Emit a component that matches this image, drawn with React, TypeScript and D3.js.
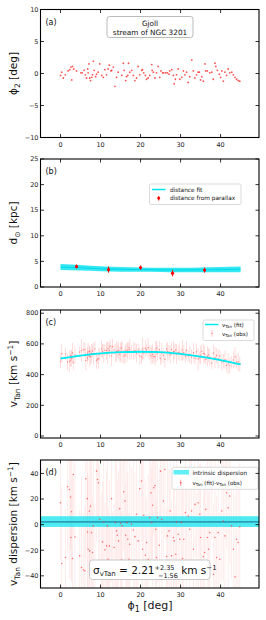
import React from "react";
import * as d3 from "d3";

// panel (a): stream stars on the sky
const phi1A = [0.0,0.3,0.7,1.2,1.9,2.3,2.6,2.8,3.0,3.3,4.0,5.1,5.4,5.9,6.2,6.5,6.8,6.9,7.1,7.3,
  7.5,7.8,8.0,8.2,8.4,8.8,9.0,9.4,9.8,10.3,10.7,11.1,11.5,11.9,12.2,12.6,12.8,13.2,13.6,14.0,
  14.4,15.3,15.7,15.9,16.3,16.5,16.8,17.0,17.3,17.8,18.2,18.6,19.0,19.4,19.8,20.3,20.5,20.8,21.2,21.5,
  21.9,22.3,22.8,22.9,23.2,23.6,24.0,24.4,24.8,25.1,25.5,25.8,26.3,26.7,27.1,27.3,27.8,28.2,28.4,28.7,
  29.0,29.4,29.8,30.3,30.7,31.1,31.5,31.9,32.3,32.8,33.2,33.6,34.0,34.4,34.7,35.0,35.3,35.7,36.1,36.3,
  36.7,37.3,37.8,38.2,38.6,38.8,39.2,39.7,40.0,40.3,40.7,41.1,41.5,41.9,42.3,42.8,43.2,43.6,44.0,44.4,44.8];
const phi2A = [-0.3,0.2,-0.7,-0.2,0.4,0.6,1.0,-1.0,1.1,0.7,0.4,0.1,0.1,0.5,-0.2,-0.7,0.7,0.1,1.5,-0.7,
  -1.1,-0.6,-0.2,1.9,0.5,-0.5,-0.1,0.2,1.5,-0.3,-0.6,0.6,-0.2,0.7,1.3,0.4,0.5,1.0,-2.0,-0.6,
  0.2,-0.3,1.6,0.5,-1.1,-0.5,-0.3,1.6,0.2,0.5,-0.3,-1.1,-0.7,1.1,-0.2,0.5,0.6,0.1,-0.3,-0.9,
  -0.7,-0.3,1.4,0.5,0.2,-0.7,0.1,1.1,-0.6,0.4,0.1,0.1,0.1,0.1,-0.1,0.4,0.6,-0.3,-1.6,-0.9,
  -0.2,0.7,-0.9,-0.6,0.4,-0.2,0.2,-1.4,-0.5,2.1,0.4,-0.7,-0.2,0.2,0.2,-1.0,-0.5,-1.2,1.5,0.4,
  0.4,0.1,0.2,-0.9,1.6,1.1,0.5,-0.1,-0.6,0.4,-1.2,0.2,-0.3,0.7,0.1,0.2,-0.2,-0.6,-0.9,-1.1,-1.2];

// panel (b): distances
const distPhi = [4, 12, 20, 28, 36];
const distVal = [4.0, 3.4, 3.8, 2.7, 3.3];
const distErr = [0.4, 0.6, 0.4, 0.6, 0.5];
const bandPhi = [0, 5, 10, 15, 20, 25, 30, 35, 40, 45];
const bandHi = [4.5, 4.3, 4.05, 3.9, 3.8, 3.75, 3.75, 3.8, 3.9, 4.0];
const bandLo = [3.3, 3.2, 3.1, 3.0, 3.0, 2.95, 2.9, 2.9, 2.9, 2.9];

// panel (c): tangential velocity fit
const fitPhi = [0, 5, 10, 15, 20, 25, 30, 35, 40, 45];
const fitV = [505, 524, 538, 546, 549, 546, 535, 517, 494, 466];

// panel (d): residuals fit - obs, with errors
const phi1D = [0.0,0.3,1.25,1.75,2.2,2.5,2.75,2.6,3.0,3.2,
  3.6,4.8,5.25,5.7,6.1,6.3,6.7,6.9,6.75,7.2,
  7.3,7.5,7.75,8.0,8.2,8.6,9.0,9.25,9.5,9.8,
  10.25,10.5,10.8,11.1,11.5,11.7,11.9,12.2,12.4,12.75,
  13.0,13.4,13.7,14.0,14.2,14.5,14.8,15.0,15.25,15.4,
  15.8,16.1,16.3,16.6,16.8,17.1,17.3,17.75,18.2,18.6,
  19.0,19.4,19.8,20.25,20.5,20.8,21.2,21.5,21.9,22.3,
  22.6,22.8,23.0,23.3,23.6,23.8,24.0,24.25,24.7,25.0,
  25.3,25.7,26.1,26.5,26.75,27.1,27.4,27.75,28.2,28.4,
  28.8,29.0,29.4,29.8,30.25,30.5,30.8,31.2,31.5,31.9,
  32.3,32.75,33.2,33.6,34.0,34.4,34.8,35.0,35.3,35.7,
  36.0,36.3,36.7,37.0,37.3,37.8,38.2,38.6,39.0,39.4,
  39.8,40.3,40.7,41.1,41.5,41.9,42.3,42.75,43.2,43.6,
  44.0,44.4,44.8];
const resD = [17.1,-30.4,-25.7,29.6,27.5,21.6,10.1,-10.1,-26.5,39.2,
  -9.6,-24.4,-33.5,-35.3,-36.1,35.8,20.3,-19.2,-5.7,10.6,
  -20.5,14.5,-6.2,-21.8,-1.0,-33.5,41.8,35.3,32.7,4.2,
  -29.6,-13.5,2.1,-19.7,-16.6,-1.0,-27.0,-16.6,-42.6,20.3,
  -40.0,-17.9,1.6,-4.9,-8.3,-12.7,12.5,1.0,-27.5,-1.0,
  25.7,18.4,-8.3,1.6,-11.4,-27.0,-15.3,0.3,-4.2,-9.4,
  8.1,-12.7,28.1,34.0,-19.2,7.3,-23.9,-14.0,-27.0,5.5,
  24.9,1.6,15.1,28.8,30.6,-3.6,-25.7,5.5,-16.1,41.8,
  4.2,18.4,43.1,-24.9,-8.8,-4.9,10.6,-24.4,-10.1,-12.7,
  -23.1,2.1,-7.5,-11.4,1.6,-26.5,-11.4,9.4,-29.6,6.8,
  -3.6,10.6,-19.2,15.8,-28.3,17.1,8.1,-10.1,-36.1,-24.9,
  -21.8,11.9,-10.1,-19.2,-6.2,28.1,-38.7,-10.1,-25.7,-6.2,
  -27.0,10.6,2.9,-8.8,24.9,13.2,22.3,-1.0,-19.2,-40.8,
  -11.4,-14.0,-1.6];
const errD = [45,60,38,52,70,41,55,33,64,48,
  58,36,72,44,50,62,39,57,46,68,
  35,53,61,42,75,49,56,31,66,43,
  54,47,63,37,59,71,40,52,45,65,
  50,34,58,67,43,55,48,62,38,73,
  46,57,41,64,52,36,69,44,59,50,
  61,39,55,47,72,42,58,35,66,49,
  53,44,63,38,57,70,46,51,60,40,
  67,45,54,37,62,48,59,43,71,52,
  38,65,47,56,41,68,50,44,61,36,
  57,49,64,42,53,72,39,58,46,63,
  51,35,66,45,59,40,55,69,48,62,
  37,54,47,60,43,68,52,41,57,64,
  45,58,50];
const dispMean = 2.2;
const dispBand = [-1.8, 6.6];

const xTicks = [0, 10, 20, 30, 40];
const FONT = "DejaVu Sans, sans-serif";

const L = 40.5, R = 259, H = 128;
const x = d3.scaleLinear().domain([-5, 49.6]).range([L, R]);

const minus = (v: number) => (v < 0 ? "\u2212" + Math.abs(v) : "" + v);

function Frame({ top, y, ticks, label }: any) {
  const b = top + H;
  return (
    <g>
      {xTicks.map((t) => (
        <g key={"x" + t}>
          <line x1={x(t)} x2={x(t)} y1={b} y2={b - 3.5} stroke="#000" strokeWidth={0.8} />
          <line x1={x(t)} x2={x(t)} y1={top} y2={top + 3.5} stroke="#000" strokeWidth={0.8} />
          <text x={x(t)} y={b + 9} fontSize={6.5} textAnchor="middle" fill="#222">{t}</text>
        </g>
      ))}
      {ticks.map((t: number) => (
        <g key={"y" + t}>
          <line x1={L} x2={L + 3.5} y1={y(t)} y2={y(t)} stroke="#000" strokeWidth={0.8} />
          <line x1={R} x2={R - 3.5} y1={y(t)} y2={y(t)} stroke="#000" strokeWidth={0.8} />
          <text x={L - 2} y={y(t)} dy="0.35em" fontSize={6.5} textAnchor="end" fill="#222">{minus(t)}</text>
        </g>
      ))}
      <rect x={L} y={top} width={R - L} height={H} fill="none" stroke="#000" strokeWidth={1.1} />
      <text x={L + 5} y={top + 15} fontSize={8} fill="#111">{label}</text>
    </g>
  );
}

function YLabel({ top, children }: any) {
  return (
    <text transform={`translate(17,${top + H / 2}) rotate(-90)`} fontSize={10.5} textAnchor="middle" fill="#111">
      {children}
    </text>
  );
}

export default function App() {
  const topA = 9.5, topB = 159, topC = 310, topD = 460;

  const yA = d3.scaleLinear().domain([-10, 10]).range([topA + H, topA]);
  const yB = d3.scaleLinear().domain([0, 25]).range([topB + H, topB]);
  const yC = d3.scaleLinear().domain([-13, 821]).range([topC + H, topC]);
  const yD = d3.scaleLinear().domain([-49.5, 50.5]).range([topD + H, topD]);

  const band = d3.area<number>()
    .x((d, i) => x(bandPhi[i]))
    .y0((d, i) => yB(bandLo[i]))
    .y1((d, i) => yB(bandHi[i]))
    .curve(d3.curveMonotoneX);
  const bandMid = d3.line<number>()
    .x((d, i) => x(bandPhi[i]))
    .y((d, i) => yB((bandLo[i] + bandHi[i]) / 2))
    .curve(d3.curveMonotoneX);

  const fitLine = d3.line<number>()
    .x((d, i) => x(fitPhi[i]))
    .y((d) => yC(d))
    .curve(d3.curveNatural);
  // piecewise fit to place observed velocities: obs = fit - residual
  const fitAt = d3.scaleLinear().domain(fitPhi).range(fitV);

  return (
    <svg width={266} height={620} style={{ position: "absolute", left: 0, top: 0 }} fontFamily={FONT}>
      <defs>
        <clipPath id="clipC"><rect x={L} y={topC} width={R - L} height={H} /></clipPath>
        <clipPath id="clipD"><rect x={L} y={topD} width={R - L} height={H} /></clipPath>
      </defs>

      {/* (a) */}
      {phi1A.map((p, i) => (
        <circle key={i} cx={x(p)} cy={yA(phi2A[i])} r={0.9} fill="#ff1a1a" opacity={0.75} />
      ))}
      <rect x={107} y={16.5} width={86} height={21} rx={2.5} fill="#fff" stroke="#aaa" strokeWidth={0.8} />
      <text x={150} y={26} fontSize={7.3} textAnchor="middle" fill="#111">Gjoll</text>
      <text x={150} y={34.5} fontSize={7.3} textAnchor="middle" fill="#111">stream of NGC 3201</text>
      <Frame top={topA} y={yA} ticks={[-10, -5, 0, 5, 10]} label="(a)" />
      <YLabel top={topA}>ϕ<tspan fontSize={7.5} dy={2.5}>2</tspan><tspan dy={-2.5}> [deg]</tspan></YLabel>

      {/* (b) */}
      <path d={band(bandPhi) || ""} fill="#1ee6f2" opacity={0.9} />
      <path d={bandMid(bandPhi) || ""} fill="none" stroke="#00d8e8" strokeWidth={1} />
      {distPhi.map((p, i) => (
        <g key={i}>
          <line x1={x(p)} x2={x(p)} y1={yB(distVal[i] - distErr[i])} y2={yB(distVal[i] + distErr[i])} stroke="#f00" strokeWidth={1} />
          <circle cx={x(p)} cy={yB(distVal[i])} r={1.6} fill="#f00" />
        </g>
      ))}
      <rect x={149.5} y={184} width={91.5} height={20.5} rx={1.5} fill="#fff" stroke="#ccc" strokeWidth={0.7} />
      <line x1={152} x2={165.5} y1={189.5} y2={189.5} stroke="#00e5ee" strokeWidth={1.5} />
      <text x={170} y={191.5} fontSize={5.8} fill="#111">distance fit</text>
      <line x1={158.7} x2={158.7} y1={196} y2={200.5} stroke="#f00" strokeWidth={1} />
      <circle cx={158.7} cy={198.2} r={1.4} fill="#f00" />
      <text x={170} y={200.2} fontSize={5.8} fill="#111">distance from parallax</text>
      <Frame top={topB} y={yB} ticks={[0, 5, 10, 15, 20, 25]} label="(b)" />
      <YLabel top={topB}>d<tspan fontSize={7.5} dy={2.5}>⊙</tspan><tspan dy={-2.5}> [kpc]</tspan></YLabel>

      {/* (c) */}
      <g clipPath="url(#clipC)">
        {phi1D.map((p, i) => {
          const v = fitAt(p) - resD[i];
          return (
            <g key={i}>
              <line x1={x(p)} x2={x(p)} y1={yC(v - errD[i])} y2={yC(v + errD[i])} stroke="#ff8080" strokeWidth={0.6} opacity={0.45} />
              <circle cx={x(p)} cy={yC(v)} r={0.7} fill="#ff4d4d" opacity={0.6} />
            </g>
          );
        })}
      </g>
      <path d={fitLine(fitV) || ""} fill="none" stroke="#00e8f0" strokeWidth={1.8} />
      <rect x={203} y={320} width={51} height={20.5} rx={1.5} fill="#fff" stroke="#ccc" strokeWidth={0.7} />
      <line x1={205} x2={218.5} y1={324.5} y2={324.5} stroke="#00e8f0" strokeWidth={1.5} />
      <text x={222} y={326.5} fontSize={5.5} fill="#111">v<tspan fontSize={4} dy={1}>Tan</tspan><tspan dy={-1}> (fit)</tspan></text>
      <line x1={212} x2={212} y1={330} y2={337} stroke="#ff8080" strokeWidth={0.6} opacity={0.7} />
      <circle cx={212} cy={333.5} r={0.7} fill="#ff4d4d" opacity={0.6} />
      <text x={222} y={336} fontSize={5.5} fill="#111">v<tspan fontSize={4} dy={1}>Tan</tspan><tspan dy={-1}> (obs)</tspan></text>
      <Frame top={topC} y={yC} ticks={[0, 200, 400, 600, 800]} label="(c)" />
      <YLabel top={topC}>v<tspan fontSize={7.5} dy={2.5}>Tan</tspan><tspan dy={-2.5}> [km s</tspan><tspan fontSize={7.5} dy={-4}>−1</tspan><tspan dy={4}>]</tspan></YLabel>

      {/* (d) */}
      <g clipPath="url(#clipD)">
        {phi1D.map((p, i) => (
          <line key={"e" + i} x1={x(p)} x2={x(p)} y1={yD(resD[i] - errD[i])} y2={yD(resD[i] + errD[i])} stroke="#ffb3b3" strokeWidth={0.7} opacity={0.35} />
        ))}
        <rect x={L} y={yD(dispBand[1])} width={R - L} height={yD(dispBand[0]) - yD(dispBand[1])} fill="#22e6f0" opacity={0.8} />
        <line x1={L} x2={R} y1={yD(dispMean)} y2={yD(dispMean)} stroke="#2b9fba" strokeWidth={1.8} />
        {phi1D.map((p, i) => (
          <circle key={"p" + i} cx={x(p)} cy={yD(resD[i])} r={0.8} fill="#ff3030" opacity={0.65} />
        ))}
      </g>
      <rect x={172} y={467.3} width={86} height={22} rx={1.5} fill="#fff" stroke="#ccc" strokeWidth={0.7} />
      <rect x={173.5} y={470} width={15.5} height={4.5} fill="#5ef0f5" />
      <text x={192.5} y={474.5} fontSize={5.8} fill="#111">intrinsic dispersion</text>
      <line x1={180.7} x2={180.7} y1={479.5} y2={486} stroke="#ff8080" strokeWidth={0.7} />
      <circle cx={180.7} cy={482.7} r={0.8} fill="#ff3030" />
      <text x={192.5} y={484.5} fontSize={5.5} fill="#111">v<tspan fontSize={4} dy={1}>Tan</tspan><tspan dy={-1}> (fit)-v</tspan><tspan fontSize={4} dy={1}>Tan</tspan><tspan dy={-1}> (obs)</tspan></text>
      <rect x={89.5} y={560} width={120.5} height={19.5} rx={3} fill="#fff" stroke="#bbb" strokeWidth={0.8} />
      <text x={93} y={574} fontSize={10.5} fill="#111">
        σ<tspan fontSize={7} dy={2}>vTan</tspan><tspan dy={-2}> = 2.21</tspan>
        <tspan fontSize={6.5} dy={-4.5}>+2.35</tspan>
        <tspan fontSize={6.5} dx={-16.5} dy={8}>−1.56</tspan>
        <tspan dy={-3.5}> km s</tspan><tspan fontSize={7} dy={-4}>−1</tspan>
      </text>
      <Frame top={topD} y={yD} ticks={[-40, -20, 0, 20, 40]} label="(d)" />
      <YLabel top={topD}>v<tspan fontSize={7.5} dy={2.5}>Tan</tspan><tspan dy={-2.5}> dispersion [km s</tspan><tspan fontSize={7.5} dy={-4}>−1</tspan><tspan dy={4}>]</tspan></YLabel>
      <text x={150} y={609} fontSize={11} textAnchor="middle" fill="#111">ϕ<tspan fontSize={8} dy={2.5}>1</tspan><tspan dy={-2.5}> [deg]</tspan></text>
    </svg>
  );
}
